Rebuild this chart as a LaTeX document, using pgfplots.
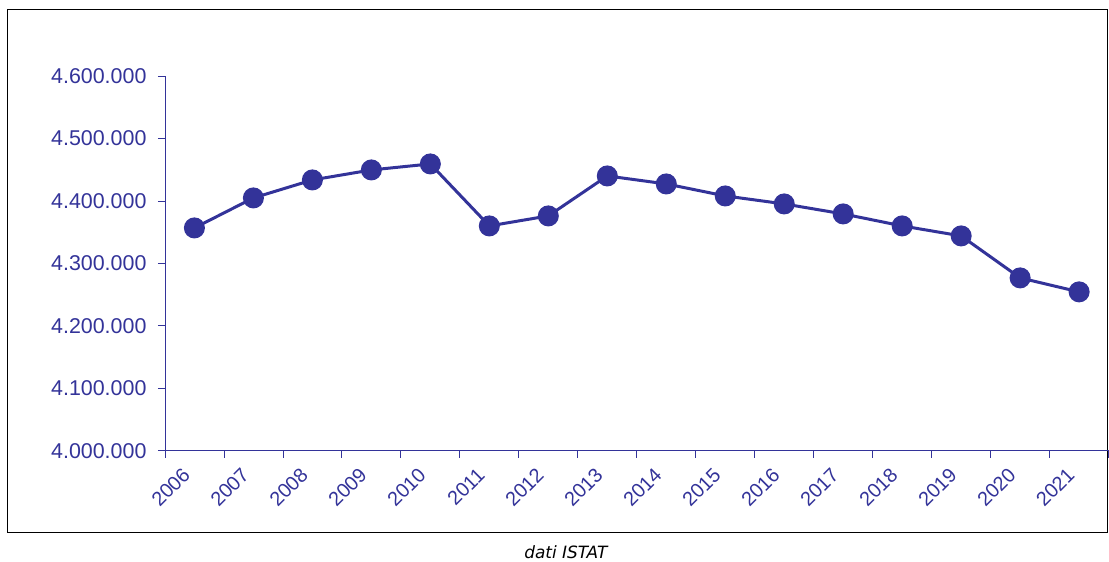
\documentclass[border=0pt]{standalone}
\usepackage{pgfplots}
\pgfplotsset{compat=1.18}
\usepackage{fontspec}
\setmainfont{Liberation Sans}
\newfontfamily\capfont{DejaVu Sans}
\definecolor{navy}{HTML}{333399}
\begin{document}
\begin{tikzpicture}[x=1bp,y=1bp]
\path (0,0) rectangle (1109,-562);
\draw[line width=1bp] (8,-10) rectangle (1108,-533);
\node[font=\fontsize{17}{20}\capfont\itshape] at (566,-552) {dati ISTAT};
\begin{axis}[at={(165bp,-451bp)},anchor=south west,scale only axis,
 width=944bp,height=375bp,
 xmin=-0.5,xmax=15.5,ymin=4000000,ymax=4600000,
 axis x line*=bottom, axis y line*=left,
 axis line style={navy,line width=0.8bp},
 xtick={0,...,15}, xticklabels={2006,2007,2008,2009,2010,2011,2012,2013,2014,2015,2016,2017,2018,2019,2020,2021},
 major x tick style={draw=none},
 minor xtick={-0.5,0.5,...,15.5},
 minor tick length=7bp, major tick length=7bp,
 tick align=outside, tick style={navy,line width=0.8bp},
 xticklabel style={rotate=45,anchor=east,font=\fontsize{20}{22}\selectfont,text=navy,xshift=-12bp,yshift=-4bp},
 ytick={4000000,4100000,...,4600000},
 yticklabel style={font=\fontsize{21.5}{24}\selectfont,text=navy,xshift=-8bp},
 /pgf/number format/assume math mode=true,
 scaled y ticks=false,
 yticklabel={\pgfmathprintnumber[fixed,precision=0,set thousands separator={.}]{\tick}},
 clip=false]
\addplot[navy,line width=3bp,mark=*,mark size=9bp,mark options={fill=navy}] coordinates {
(0,4356800)(1,4404800)(2,4433600)(3,4449600)(4,4459200)(5,4360000)(6,4376000)(7,4440000)
(8,4427200)(9,4408000)(10,4395200)(11,4379200)(12,4360000)(13,4344000)(14,4276800)(15,4254400)};
\end{axis}
\end{tikzpicture}
\end{document}
